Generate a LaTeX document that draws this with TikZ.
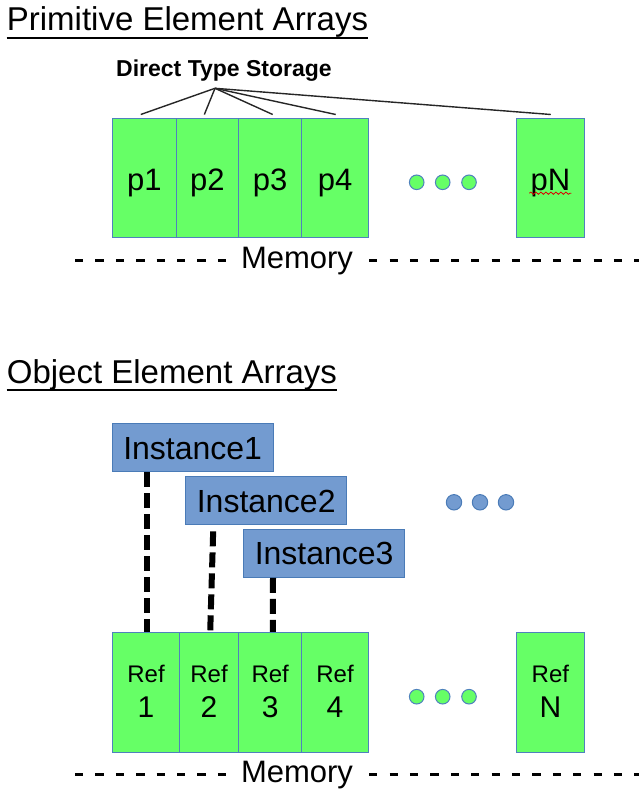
\documentclass[tikz,border=0pt]{standalone}
\usepackage{fontspec}
\setmainfont{Liberation Sans}
\usetikzlibrary{calc,decorations.pathmorphing}
\definecolor{gfill}{HTML}{66FF66}
\definecolor{gline}{HTML}{4F81BD}
\definecolor{bfill}{HTML}{739BD0}
\definecolor{bline}{HTML}{4A7BB7}
\begin{document}
\begin{tikzpicture}[x=1pt,y=-1pt,
  cell/.style={draw=gline, fill=gfill, line width=1pt, minimum height=119.4pt, inner sep=0pt},
  refcell/.style={draw=gline, fill=gfill, line width=1pt, minimum height=120pt, inner sep=0pt},
  inst/.style={draw=bline, fill=bfill, line width=1pt, minimum width=161.3pt, minimum height=48pt, inner sep=0pt},
  celltxt/.style={anchor=base, inner sep=0pt, font=\fontsize{31}{37}\selectfont},
  reftxt/.style={anchor=base, inner sep=0pt, font=\fontsize{24}{29}\selectfont},
  numtxt/.style={anchor=base, inner sep=0pt, font=\fontsize{30}{36}\selectfont},
  insttxt/.style={anchor=base, inner sep=0pt, font=\fontsize{32}{38}\selectfont},
  titletxt/.style={anchor=base west, inner sep=0pt, font=\fontsize{33}{40}\selectfont},
  memtxt/.style={anchor=base, inner sep=0pt, font=\fontsize{31}{37}\selectfont},
  uline/.style={line width=2pt, black},
  memdash/.style={line width=2.6pt, dash pattern=on 8.3pt off 12.1pt, black},
  fan/.style={line width=1.4pt, black!85},
  refline/.style={line width=6pt, dash pattern=on 15pt off 6pt, black},
  gdot/.style={circle, draw=gline, fill=gfill, line width=1pt, minimum size=14.6pt, inner sep=0pt},
  bdot/.style={circle, draw=bline, fill=bfill, line width=1pt, minimum size=15.4pt, inner sep=0pt},
  squig/.style={red!85!black, line width=0.8pt, decorate, decoration={snake, segment length=5pt, amplitude=1.1pt}}
]
\useasboundingbox (0,0) rectangle (638,791);

% ---------- Primitive Element Arrays ----------
\node[titletxt] (title1) at (6.7,31) {Primitive Element Arrays};
\draw[uline] (title1.south west) -- (title1.south east);

\node[anchor=base, inner sep=0pt, font=\bfseries\fontsize{23}{28}\selectfont] (dts) at (224,76.7) {Direct Type Storage};
\coordinate (apex) at (215,88.3);

\node[cell, minimum width=63.3pt] (p1) at (144.35,178) {};
\node[cell, minimum width=62.7pt] (p2) at (207.35,178) {};
\node[cell, minimum width=63pt]   (p3) at (270.2,178) {};
\node[cell, minimum width=66.6pt] (p4) at (335,178) {};
\node[cell, minimum width=67.3pt] (pN) at (550.35,178) {};

\node[celltxt] (tp1) at ($(p1.center)+(0,13)$) {p1};
\node[celltxt] (tp2) at ($(p2.center)+(0,13)$) {p2};
\node[celltxt] (tp3) at ($(p3.center)+(0,13)$) {p3};
\node[celltxt] (tp4) at ($(p4.center)+(0,13)$) {p4};
\node[celltxt] (tpN) at ($(pN.center)+(0,13)$) {pN};
\draw[squig] ($(tpN.base west)+(-1,2.2)$) -- ($(tpN.base east)+(1,2.2)$);

\draw[fan] (apex) -- ($(p1.north)+(-3.6,-3.3)$);
\draw[fan] (apex) -- ($(p2.north)+(-3,-3.3)$);
\draw[fan] (apex) -- ($(p3.north)+(2.5,-3.3)$);
\draw[fan] (apex) -- ($(p4.north)+(0.7,-3.3)$);
\draw[fan] (apex) -- ($(pN.north)+(0.4,-3.3)$);

\node[gdot] (gd1) at (416.7,182.3) {};
\node[gdot] (gd2) at (442.7,182.3) {};
\node[gdot] (gd3) at (469,182.3) {};

\node[memtxt] (mem1) at (297,268.8) {Memory};
\coordinate (m1L) at (75,260.7);
\coordinate (m1R) at (640,260.7);
\draw[memdash] (m1L) -- ($(mem1.west |- m1L)+(-12,0)$);
\draw[memdash] ($(mem1.east |- m1R)+(16,0)$) -- (m1R);

% ---------- Object Element Arrays ----------
\node[titletxt] (title2) at (6.7,383.3) {Object Element Arrays};
\draw[uline] (title2.south west) -- (title2.south east);

\node[inst] (I1) at (192.65,447.85) {};
\node[inst] (I2) at (266.2,500.85) {};
\node[inst] (I3) at (324.15,553.3) {};
\node[insttxt] (tI1) at ($(I1.center)+(0,11.2)$) {Instance1};
\node[insttxt] (tI2) at ($(I2.center)+(0,11.2)$) {Instance2};
\node[insttxt] (tI3) at ($(I3.center)+(0,11.2)$) {Instance3};

\node[bdot] (bd1) at (454,502.3) {};
\node[bdot] (bd2) at (480,502.3) {};
\node[bdot] (bd3) at (506,502.3) {};

\node[refcell, minimum width=66.6pt] (R1) at (146,692.3) {};
\node[refcell, minimum width=59.4pt] (R2) at (209,692.3) {};
\node[refcell, minimum width=63pt]   (R3) at (270.2,692.3) {};
\node[refcell, minimum width=66.6pt] (R4) at (335,692.3) {};
\node[refcell, minimum width=67.3pt] (RN) at (550.35,692.3) {};

\node[reftxt] (r1a) at ($(R1.center)+(0,-10)$) {Ref};
\node[numtxt] (r1b) at ($(R1.center)+(0,25.4)$) {1};
\node[reftxt] (r2a) at ($(R2.center)+(0,-10)$) {Ref};
\node[numtxt] (r2b) at ($(R2.center)+(0,25.4)$) {2};
\node[reftxt] (r3a) at ($(R3.center)+(0,-10)$) {Ref};
\node[numtxt] (r3b) at ($(R3.center)+(0,25.4)$) {3};
\node[reftxt] (r4a) at ($(R4.center)+(0,-10)$) {Ref};
\node[numtxt] (r4b) at ($(R4.center)+(0,25.4)$) {4};
\node[reftxt] (rNa) at ($(RN.center)+(0,-10)$) {Ref};
\node[numtxt] (rNb) at ($(RN.center)+(0,25.4)$) {N};

\draw[refline] ($(I1.south west)+(35.3,0)$) -- ($(R1.north west)+(34.6,0)$);
\draw[refline, dash phase=15pt] ($(I2.south west)+(28.3,0)$) -- ($(R2.north west)+(31.4,0)$);
\draw[refline] ($(I3.south west)+(30,0)$) -- ($(R3.north west)+(34.6,0)$);

\node[gdot] (gd4) at (416.7,696.7) {};
\node[gdot] (gd5) at (442.7,696.7) {};
\node[gdot] (gd6) at (469,696.7) {};

\node[memtxt] (mem2) at (297,782) {Memory};
\coordinate (m2L) at (75,774.5);
\coordinate (m2R) at (640,774.5);
\draw[memdash] (m2L) -- ($(mem2.west |- m2L)+(-12,0)$);
\draw[memdash] ($(mem2.east |- m2R)+(16,0)$) -- (m2R);
\end{tikzpicture}
\end{document}
